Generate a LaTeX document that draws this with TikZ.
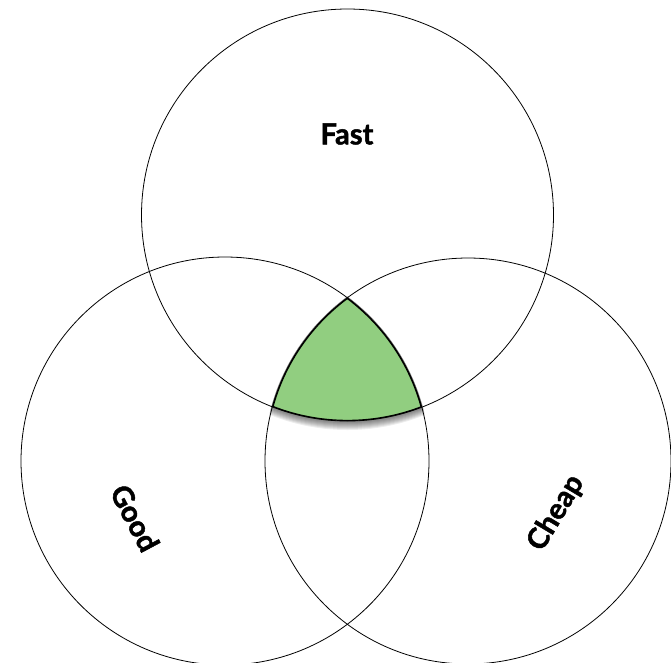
\documentclass[tikz,border=0pt]{standalone}
\usepackage{fontspec}
\setmainfont{Lato}
\newfontfamily\labelfont[FakeBold=1.6]{Lato}
\usetikzlibrary{positioning}

\definecolor{meetgreen}{RGB}{145,206,128}

\begin{document}
\begin{tikzpicture}[x=1pt, y=-1pt,
          setcircle/.style={circle, draw=black, line width=0.8pt, inner sep=0pt, minimum size=#1},
          setlabel/.style={font=\labelfont\fontsize{29}{34}\selectfont\bfseries, inner sep=0pt}]

        \useasboundingbox (0,0) rectangle (671,662);

        % centres of the three sets
        \coordinate (cfast) at (347.5,215);
        \coordinate (cgood) at (225,461);
        \coordinate (ccheap) at (468,461);

        % soft shadow under the common part
        \begin{scope}
          \clip (cgood) circle (205pt);
          \clip (ccheap) circle (204pt);
          \foreach \d in {1,...,9}
            \fill[black, opacity=0.07] ([yshift=-\d pt]cfast) circle (206pt);
        \end{scope}

        % common part
        \begin{scope}
          \clip (cgood) circle (204pt);
          \clip (ccheap) circle (203pt);
          \clip (cfast) circle (206pt);
          \fill[meetgreen] (cfast) circle (206pt);
          \draw[line width=2.4pt] (cfast) circle (206pt) (cgood) circle (204pt) (ccheap) circle (203pt);
        \end{scope}

        \node [setcircle=412pt] (fast) at (cfast) {};
        \node [setcircle=408pt] (good) at (cgood) {};
        \node [setcircle=406pt] (cheap) at (ccheap) {};

        \node [setlabel] (fasttext) at (347,134) {Fast};
        \node [setlabel, rotate=-62] (goodtext) at (135,518) {Good};
        \node [setlabel, rotate=59] (cheaptext) at (556,513) {Cheap};
      \end{tikzpicture}
\end{document}
